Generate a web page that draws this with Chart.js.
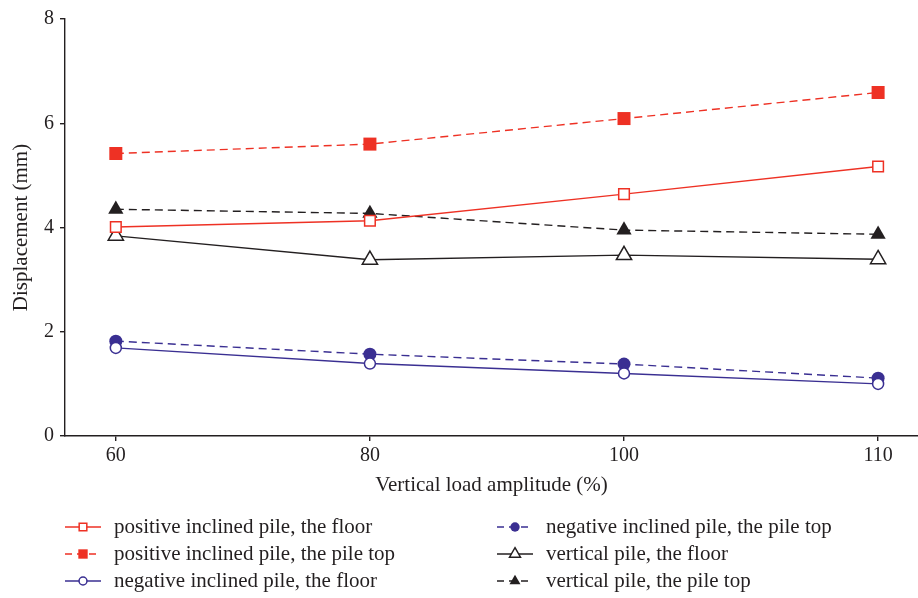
<!DOCTYPE html>
<html>
<head>
<meta charset="utf-8">
<script src="https://cdn.jsdelivr.net/npm/chart.js@4.4.1/dist/chart.umd.min.js"></script>
<style>
  html, body { margin: 0; padding: 0; background: #fff; }
  #wrap { width: 918px; height: 598px; }
</style>
</head>
<body>
<div id="wrap"><canvas id="myChart" width="918" height="598"></canvas></div>
<script>
"use strict"

// vertical load amplitude (%) on the x axis
const loads = ["60", "80", "100", "110"]
const y_ticks = [0, 2, 4, 6, 8]

// displacement (mm)
const pos_floor = [4.01, 4.13, 4.64, 5.17]
const pos_top = [5.42, 5.60, 6.09, 6.59]
const neg_floor = [1.69, 1.39, 1.20, 1.00]
const neg_top = [1.82, 1.57, 1.38, 1.11]
const vert_floor = [3.84, 3.38, 3.47, 3.39]
const vert_top = [4.35, 4.27, 3.95, 3.87]

const RED = "#ee3124"
const BLUE = "#3a2f92"
const BLACK = "#231f20"
const FONT = "'Liberation Serif', 'Times New Roman', serif"

function pts(arr){
  return arr.map((y, i) => ({ x: i, y: y }))
}

function series(label, arr, color, style, radius, filled, dashed){
  return {
    label: label,
    data: pts(arr),
    borderColor: color,
    borderWidth: 1.4,
    borderDash: dashed ? [8, 5] : [],
    pointStyle: style,
    pointRadius: radius,
    pointHoverRadius: radius,
    pointBackgroundColor: filled ? color : "#fff",
    pointBorderColor: color,
    pointBorderWidth: filled ? 0 : 1.5,
    fill: false,
    clip: false,
    tension: 0
  }
}

// legend drawn on the canvas in two columns, three rows each
const legendPlugin = {
  id: "twoColLegend",
  afterDraw(chart){
    const c = chart.ctx
    const cols = [65, 497]
    const rows = [527, 554, 581]
    chart.data.datasets.forEach((ds, i) => {
      const x = cols[Math.floor(i / 3)]
      const y = rows[i % 3]
      c.save()
      c.strokeStyle = ds.borderColor
      c.lineWidth = 1.4
      c.setLineDash(ds.borderDash.length ? [7, 5] : [])
      c.beginPath()
      c.moveTo(x, y)
      c.lineTo(x + 36, y)
      c.stroke()
      c.setLineDash([])
      c.fillStyle = ds.pointBackgroundColor
      c.strokeStyle = ds.pointBorderColor
      c.lineWidth = ds.pointBorderWidth
      Chart.helpers.drawPoint(c, {
        pointStyle: ds.pointStyle,
        radius: ds.pointRadius * 0.72,
        borderWidth: ds.pointBorderWidth
      }, x + 18, y)
      c.restore()
      c.save()
      c.font = "21px " + FONT
      c.fillStyle = BLACK
      c.textBaseline = "middle"
      c.fillText(ds.label, x + 49, y)
      c.restore()
    })
  }
}

const ctx = document.getElementById("myChart")

let graph = new Chart(ctx, {
  type: "line",
  data: {
    datasets: [
      series("positive inclined pile, the floor", pos_floor, RED, "rect", 7.5, false, false),
      series("positive inclined pile, the pile top", pos_top, RED, "rect", 9.2, true, true),
      series("negative inclined pile, the floor", neg_floor, BLUE, "circle", 5.5, false, false),
      series("negative inclined pile, the pile top", neg_top, BLUE, "circle", 6.5, true, true),
      series("vertical pile, the floor", vert_floor, BLACK, "triangle", 8.8, false, false),
      series("vertical pile, the pile top", vert_top, BLACK, "triangle", 8.8, true, true)
    ]
  },
  options: {
    responsive: false,
    animation: false,
    layout: {
      autoPadding: false,
      padding: { top: 19, right: 0, left: 0, bottom: 100 }
    },
    plugins: {
      legend: { display: false },
      tooltip: { enabled: false }
    },
    scales: {
      x: {
        type: "linear",
        min: -0.2,
        max: 3.157,
        afterBuildTicks: (scale) => {
          scale.ticks = loads.map((l, i) => ({ value: i }))
        },
        afterFit: (scale) => {
          scale.height = 62
          scale.paddingLeft = 0
          scale.paddingRight = 0
        },
        ticks: {
          callback: (v) => loads[v],
          color: BLACK,
          font: { family: FONT, size: 20 },
          padding: 3,
          maxRotation: 0
        },
        grid: { drawOnChartArea: false, drawTicks: true, tickLength: 5, color: BLACK, lineWidth: 1.4 },
        border: { display: true, color: BLACK, width: 1.4 },
        title: {
          display: true,
          text: "Vertical load amplitude (%)",
          color: BLACK,
          font: { family: FONT, size: 21 },
          padding: { top: 4, bottom: 0 }
        }
      },
      y: {
        type: "linear",
        min: 0,
        max: 8,
        afterBuildTicks: (scale) => {
          scale.ticks = y_ticks.map(v => ({ value: v }))
        },
        afterFit: (scale) => { scale.width = 65 },
        ticks: {
          color: BLACK,
          font: { family: FONT, size: 20 },
          padding: 6
        },
        grid: { drawOnChartArea: false, drawTicks: true, tickLength: 5, color: BLACK, lineWidth: 1.4 },
        border: { display: true, color: BLACK, width: 1.4 },
        title: {
          display: true,
          text: "Displacement (mm)",
          color: BLACK,
          font: { family: FONT, size: 21 },
          padding: { top: 9, bottom: 4 }
        }
      }
    }
  },
  plugins: [legendPlugin]
})
</script>
</body>
</html>
